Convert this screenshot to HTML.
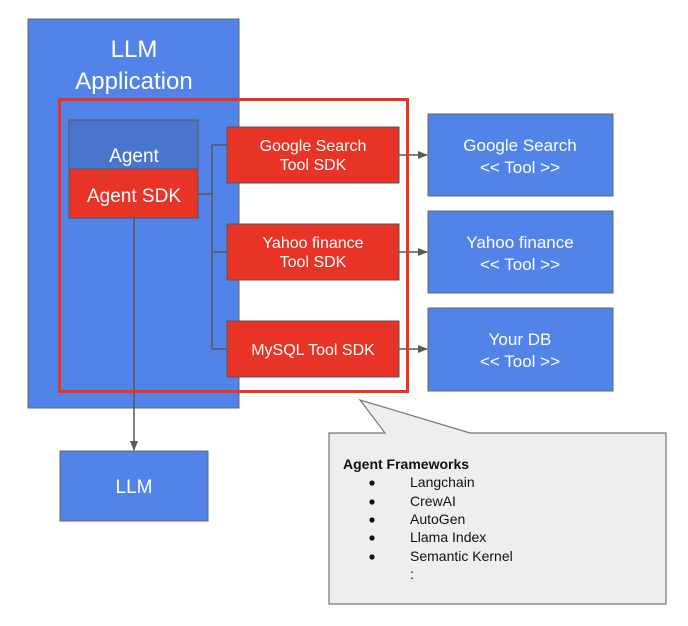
<!DOCTYPE html>
<html><head><style>body{margin:0;background:#fff}svg{display:block}</style></head>
<body>
<svg width="688" height="626" xmlns="http://www.w3.org/2000/svg" font-family="Liberation Sans, sans-serif">
<defs><marker id="a" markerWidth="10" markerHeight="8" refX="9" refY="4" orient="auto" markerUnits="userSpaceOnUse"><path d="M0,0 L10,4 L0,8z" fill="#595959"/></marker></defs>
<rect x="28" y="19" width="211" height="389" fill="#5283e9" stroke="#666" stroke-width="1"/>
<text x="134" y="57" font-size="24" fill="#fff" text-anchor="middle">LLM</text>
<text x="134" y="89" font-size="24" fill="#fff" text-anchor="middle">Application</text>
<rect x="69" y="120" width="129" height="49" fill="#4a75ce" stroke="#555"/>
<text x="134" y="162" font-size="19" fill="#fff" text-anchor="middle">Agent</text>
<rect x="69" y="169" width="129" height="49" fill="#e73427" stroke="#555"/>
<text x="134" y="202" font-size="19" fill="#fff" text-anchor="middle">Agent SDK</text>
<g stroke="#595959" stroke-width="1.5" fill="none">
<path d="M198,194 H212 M212,145 V349 M212,145 H227 M212,252 H227 M212,349 H227"/>
<path d="M134,218 V450" marker-end="url(#a)"/>
<path d="M399,155 H427" marker-end="url(#a)"/>
<path d="M399,252 H427" marker-end="url(#a)"/>
<path d="M399,349 H427" marker-end="url(#a)"/>
</g>
<g stroke="#555" fill="#e73427">
<rect x="227" y="127" width="172" height="56"/>
<rect x="227" y="224" width="172" height="56"/>
<rect x="227" y="321" width="172" height="56"/>
</g>
<g font-size="16" fill="#fff" text-anchor="middle">
<text x="313" y="151">Google Search</text><text x="313" y="170">Tool SDK</text>
<text x="313" y="248">Yahoo finance</text><text x="313" y="267">Tool SDK</text>
<text x="313" y="355">MySQL Tool SDK</text>
</g>
<g stroke="#666" fill="#5283e9">
<rect x="428" y="114" width="185" height="82"/>
<rect x="428" y="211" width="185" height="82"/>
<rect x="428" y="308" width="185" height="83"/>
<rect x="60" y="451" width="148" height="70"/>
</g>
<g font-size="17" fill="#fff" text-anchor="middle">
<text x="520" y="151">Google Search</text><text x="520" y="173">&lt;&lt; Tool &gt;&gt;</text>
<text x="520" y="248">Yahoo finance</text><text x="520" y="270">&lt;&lt; Tool &gt;&gt;</text>
<text x="520" y="345">Your DB</text><text x="520" y="367">&lt;&lt; Tool &gt;&gt;</text>
<text x="134" y="493" font-size="19">LLM</text>
</g>
<rect x="59.5" y="99.5" width="348" height="292" fill="none" stroke="#e73427" stroke-width="3"/>
<path d="M329,433 H385 L360,400 L470,433 H666 V604 H329 Z" fill="#eeeeee" stroke="#777" stroke-width="1.2"/>
<g font-size="14" fill="#111">
<text x="343" y="469" font-weight="bold">Agent Frameworks</text>
<text x="410" y="487">Langchain</text>
<text x="410" y="506">CrewAI</text>
<text x="410" y="524">AutoGen</text>
<text x="410" y="542">Llama Index</text>
<text x="410" y="561">Semantic Kernel</text>
<text x="410" y="579">:</text>
</g>
<g fill="#111"><circle cx="372" cy="483" r="2.6"/><circle cx="372" cy="502" r="2.6"/><circle cx="372" cy="520" r="2.6"/><circle cx="372" cy="538" r="2.6"/><circle cx="372" cy="557" r="2.6"/></g>
</svg>
</body></html>
